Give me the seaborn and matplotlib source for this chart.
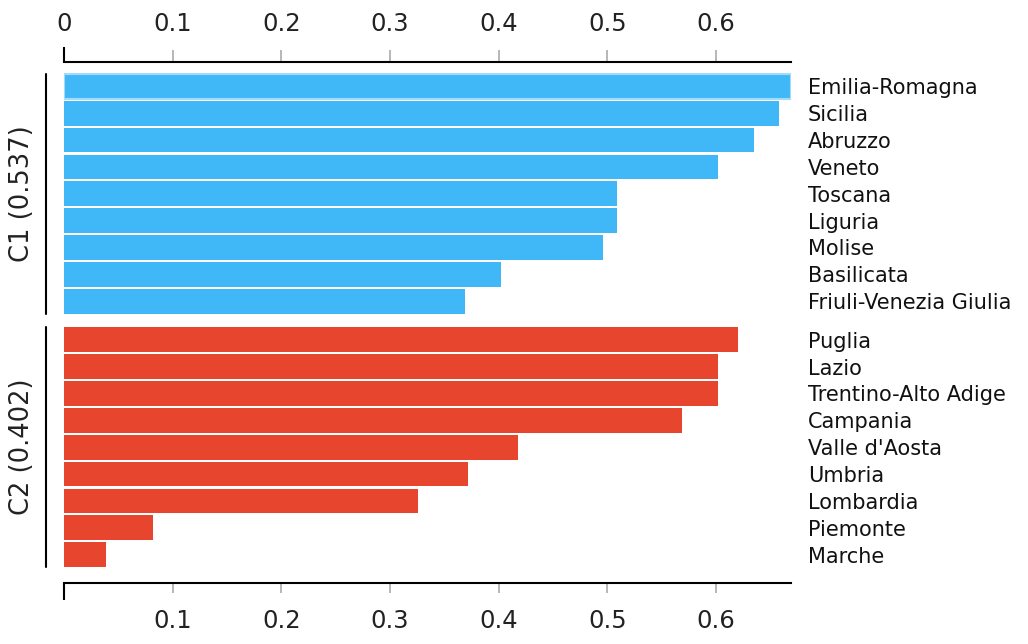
import numpy as np
import pandas as pd
import matplotlib
matplotlib.use("Agg")
import matplotlib.pyplot as plt
import matplotlib.transforms as mtransforms
import seaborn as sns

# ---------------- data ----------------
c1_regions = ["Emilia-Romagna", "Sicilia", "Abruzzo", "Veneto", "Toscana",
              "Liguria", "Molise", "Basilicata", "Friuli-Venezia Giulia"]
c1_values = [0.669, 0.658, 0.635, 0.602, 0.509, 0.509, 0.496, 0.402, 0.369]
c2_regions = ["Puglia", "Lazio", "Trentino-Alto Adige", "Campania", "Valle d'Aosta",
              "Umbria", "Lombardia", "Piemonte", "Marche"]
c2_values = [0.620, 0.602, 0.602, 0.569, 0.418, 0.372, 0.326, 0.082, 0.039]
cluster_names = ["C1", "C2"]
cluster_scores = [0.537, 0.402]
cluster_colors = {"C1": "#40b8f7", "C2": "#e8452f"}
tick_values = [0.1, 0.2, 0.3, 0.4, 0.5, 0.6]
tick_labels = ["0.1", "0.2", "0.3", "0.4", "0.5", "0.6"]

# ---------------- table ----------------
group_gap = 0.44
rows = []
offset = 0.0
groups = [(cluster_names[0], c1_regions, c1_values), (cluster_names[1], c2_regions, c2_values)]
group_spans = []
for name, regs, vals in groups:
    start = offset
    for i, (r, v) in enumerate(zip(regs, vals)):
        rows.append({"region": r, "value": v, "cluster": name, "pos": offset + i})
    end = offset + len(regs) - 1
    group_spans.append((start, end))
    offset = end + 1 + group_gap
df = pd.DataFrame(rows)

# ---------------- plot ----------------
sns.set_style("white")
plt.rcParams["font.family"] = ["DejaVu Sans"]

W, H = 1028, 644
fig = plt.figure(figsize=(W / 100, H / 100), dpi=100)
ax = fig.add_axes([64 / W, (H - 583) / H, 727 / W, 521 / H])

bar_w = 0.92
sns.barplot(data=df, x="value", y="pos", hue="cluster", orient="y", native_scale=True,
            palette=cluster_colors, width=bar_w, dodge=False, legend=False,
            saturation=1, errorbar=None, linewidth=0, ax=ax)

# highlight first (selected) bar
for p in ax.patches:
    if abs(p.get_y() + p.get_height() / 2 - 0) < 0.1:
        p.set_edgecolor("#a5dbf9")
        p.set_linewidth(1.5)

ax.set_xlim(0, 0.669)
ax.set_ylim(group_spans[1][1] + 1.06, -0.91)
ax.set_xlabel("")
ax.set_ylabel("")

# right-side region labels
ax.set_yticks(df["pos"].tolist(), df["region"].tolist())
ax.yaxis.tick_right()
ax.tick_params(axis="y", length=0, pad=12.2, labelsize=15, labelcolor="#111111")

for s in ["left", "right", "top"]:
    ax.spines[s].set_visible(False)
ax.spines["bottom"].set_linewidth(1.5)
ax.spines["bottom"].set_color("black")

# bottom axis
ax.set_xticks([0], [""])
ax.set_xticks(tick_values, tick_labels, minor=True)
ax.tick_params(axis="x", which="both", bottom=True, top=False, direction="out")
ax.tick_params(axis="x", which="major", length=12, width=1.5, color="black")
ax.tick_params(axis="x", which="minor", length=7, width=1.2, color="#aaaaaa",
               pad=12, labelsize=17.5, labelcolor="#222222")

# top axis
sec = ax.secondary_xaxis("top")
sec.set_xticks([0], ["0"])
sec.set_xticks(tick_values, tick_labels, minor=True)
sec.tick_params(axis="x", which="both", top=True, direction="out")
sec.tick_params(axis="x", which="major", length=11, width=1.5, color="black",
                pad=8, labelsize=17.5, labelcolor="#222222")
sec.tick_params(axis="x", which="minor", length=8.5, width=1.2, color="#aaaaaa",
                pad=10.5, labelsize=17.5, labelcolor="#222222")
sec.spines["top"].set_linewidth(1.5)
sec.spines["top"].set_color("black")

# group brackets and labels
trans = mtransforms.blended_transform_factory(ax.transAxes, ax.transData)
for (start, end), name, score in zip(group_spans, cluster_names, cluster_scores):
    ax.plot([-0.0248, -0.0248], [start - bar_w / 2, end + bar_w / 2], transform=trans,
            clip_on=False, color="black", lw=1.5)
    ax.text(-0.0578, (start + end) / 2, f"{name} ({score:.3f})", rotation=90,
            ha="center", va="center", transform=trans, fontsize=18.5, color="#222222")

fig.savefig("out.png", dpi=100)
